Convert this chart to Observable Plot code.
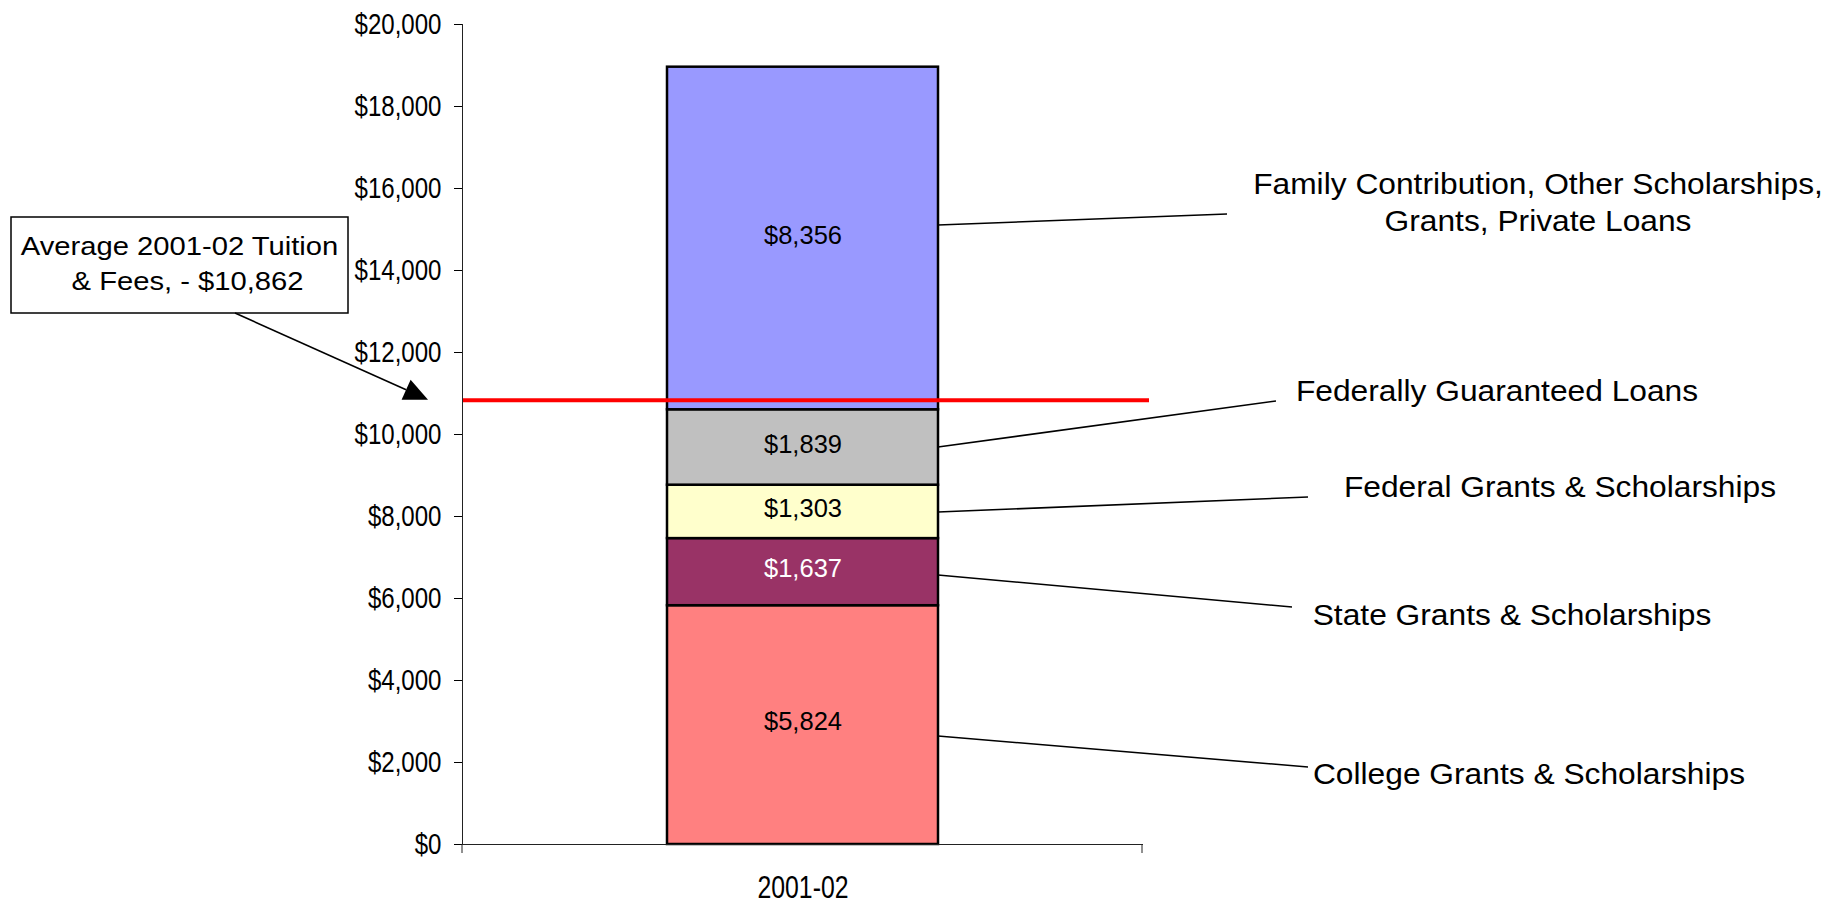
<!DOCTYPE html>
<html>
<head>
<meta charset="utf-8">
<script src="https://cdn.jsdelivr.net/npm/d3@7"></script>
<script src="https://cdn.jsdelivr.net/npm/@observablehq/plot@0.6"></script>
<style>
  html, body { margin: 0; padding: 0; background: #fff; }
  #chart svg { display: block; }
</style>
</head>
<body>
<div id="chart"></div>
<script>
// ---------------- data ----------------
const year = "2001-02";
const sources = [
  "College Grants & Scholarships",
  "State Grants & Scholarships",
  "Federal Grants & Scholarships",
  "Federally Guaranteed Loans",
  "Family Contribution, Other Scholarships, Grants, Private Loans"
];
const sourceLabelLines = [
  ["College Grants & Scholarships"],
  ["State Grants & Scholarships"],
  ["Federal Grants & Scholarships"],
  ["Federally Guaranteed Loans"],
  ["Family Contribution, Other Scholarships,", "Grants, Private Loans"]
];
const amounts = [5824, 1637, 1303, 1839, 8356];
const fills = ["#FF8080", "#993366", "#FFFFCC", "#C0C0C0", "#9999FF"];
const valueTextColors = ["#000000", "#FFFFFF", "#000000", "#000000", "#000000"];
const yTicks = [0, 2000, 4000, 6000, 8000, 10000, 12000, 14000, 16000, 18000, 20000];
const tuitionFees = 10862;
const calloutLines = ["Average 2001-02 Tuition", "& Fees, - $10,862"];

// ------------- annotation layout (not data) -------------
const leaderStartY = [2634, 6561, 8098, 9683, 15098]; // $ on y scale
const leaderEndY   = [1878, 5780, 8463, 10805, 15366];
const leaderEndDX  = [370, 354, 370, 338, 289];       // px right of the bar
const labelY       = [1707, 5585, 8707, 11049, 15646];
const labelDX      = [591, 574, 622, 559, 600];

const FONT = "Arial, 'Liberation Sans', Helvetica, sans-serif";
const fmt = d3.format("$,");

// stacked rows
let acc = 0;
const rows = sources.map((s, i) => {
  const y1 = acc, y2 = acc + amounts[i];
  acc = y2;
  return {year, source: s, amount: amounts[i], y1, y2, mid: (y1 + y2) / 2,
          fill: fills[i], textColor: valueTextColors[i]};
});

const plot = Plot.plot({
  width: 1826,
  height: 904,
  marginTop: 24,
  marginBottom: 60,
  marginLeft: 462,
  marginRight: 684,
  style: {fontFamily: FONT, background: "#fff", color: "#000", overflow: "visible"},
  x: {domain: [year], padding: 0.43, label: null},
  y: {domain: [0, 20000], label: null},
  color: {type: "identity"},
  marks: [
    Plot.barY(rows, {x: "year", y1: "y1", y2: "y2", fill: "fill", stroke: "#000", strokeWidth: 2.5}),
    Plot.text(rows, {x: "year", y: "mid", text: d => fmt(d.amount), fill: "textColor", fontSize: 25.5, dy: -3}),
    Plot.ruleY([tuitionFees], {stroke: "#FF0000", strokeWidth: 4, insetRight: -7, dy: 1}),
    Plot.frame({anchor: "left", stroke: "#222"}),
    Plot.frame({anchor: "bottom", stroke: "#222"}),
    Plot.axisY({ticks: yTicks, tickFormat: fmt, tickSize: 8, tickPadding: 13, fontSize: 29, label: null}),
    Plot.axisX({tickSize: 0, tickPadding: 31, fontSize: 31, label: null})
  ]
});

document.getElementById("chart").appendChild(plot);

// ---------------- post-render annotations ----------------
const svg = d3.select(plot);
const xs = plot.scale("x"), ys = plot.scale("y");
const barLeft = xs.apply(year);
const barRight = barLeft + xs.bandwidth;
const axisLeft = xs.range[0], axisRight = xs.range[1];
const y0 = ys.apply(0);

function squeeze(sel, k) {
  sel.each(function () {
    const t = this.getAttribute("transform");
    if (t) this.setAttribute("transform", t + ` scale(${k},1)`);
    else {
      const x = +this.getAttribute("x") || 0, y = +this.getAttribute("y") || 0;
      this.removeAttribute("x"); this.removeAttribute("y");
      this.setAttribute("transform", `translate(${x},${y}) scale(${k},1)`);
    }
  });
}
squeeze(svg.selectAll('g[aria-label="y-axis tick label"] text'), 0.83);
squeeze(svg.selectAll('g[aria-label="x-axis tick label"] text'), 0.8);

const ann = svg.append("g").attr("font-family", FONT);

// x-axis end ticks
[axisLeft, axisRight].forEach(x => {
  ann.append("line").attr("x1", x).attr("x2", x).attr("y1", y0).attr("y2", y0 + 9)
    .attr("stroke", "#222").attr("stroke-width", 1);
});

// leader lines and right labels
sources.forEach((s, i) => {
  ann.append("line")
    .attr("x1", barRight).attr("y1", ys.apply(leaderStartY[i]))
    .attr("x2", barRight + leaderEndDX[i]).attr("y2", ys.apply(leaderEndY[i]))
    .attr("stroke", "#000").attr("stroke-width", 1.6);
  const lines = sourceLabelLines[i];
  const cx = barRight + labelDX[i];
  const cy = ys.apply(labelY[i]);
  const lh = 37;
  lines.forEach((ln, j) => {
    const c = cy + (j - (lines.length - 1) / 2) * lh;
    ann.append("text")
      .attr("transform", `translate(${cx},${c + 10.4}) scale(1.095,1)`)
      .attr("text-anchor", "middle")
      .attr("font-size", 29)
      .attr("fill", "#000")
      .text(ln);
  });
});

// callout box with arrow
const box = {x: 11, y: 217, w: 337, h: 96};
ann.append("rect").attr("x", box.x).attr("y", box.y).attr("width", box.w).attr("height", box.h)
  .attr("fill", "#fff").attr("stroke", "#000").attr("stroke-width", 1.5);
const baselines = [255, 290];
calloutLines.forEach((ln, j) => {
  ann.append("text")
    .attr("transform", `translate(${box.x + box.w / 2 + (j ? 8 : 0)},${baselines[j]}) scale(1.14,1)`)
    .attr("text-anchor", "middle")
    .attr("font-size", 25.6)
    .attr("fill", "#000")
    .text(ln);
});
const start = [235, box.y + box.h];
const tip = [axisLeft - 34, ys.apply(tuitionFees) + 1];
const ang = Math.atan2(tip[1] - start[1], tip[0] - start[0]);
const L = 24, W = 11;
const base = [tip[0] - L * Math.cos(ang), tip[1] - L * Math.sin(ang)];
ann.append("line").attr("x1", start[0]).attr("y1", start[1]).attr("x2", base[0]).attr("y2", base[1])
  .attr("stroke", "#000").attr("stroke-width", 1.6);
const px = -Math.sin(ang), py = Math.cos(ang);
ann.append("polygon")
  .attr("points", [
    tip,
    [base[0] + W * px, base[1] + W * py],
    [base[0] - W * px, base[1] - W * py]
  ].map(p => p.join(",")).join(" "))
  .attr("fill", "#000");
</script>
</body>
</html>
